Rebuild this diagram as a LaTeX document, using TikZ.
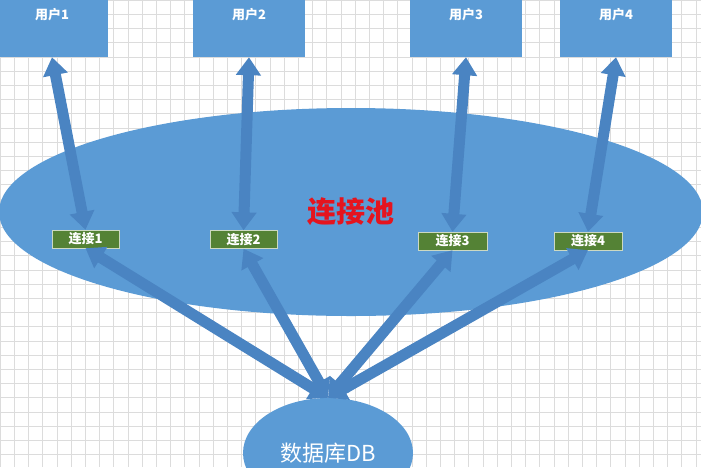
\documentclass[tikz,border=0pt]{standalone}
\usepackage{fontspec}
\setmainfont{Noto Sans CJK SC}
\usetikzlibrary{arrows.meta,shapes.geometric}
\definecolor{boxblue}{HTML}{5B9BD5}
\definecolor{arrowblue}{HTML}{4A84C2}
\definecolor{conngreen}{HTML}{548235}
\definecolor{gridgray}{HTML}{DCDCDC}
\definecolor{poolred}{HTML}{E5141E}

\begin{document}
\begin{tikzpicture}[x=1pt,y=-1pt,
	user/.style={fill=boxblue,minimum width=112pt,minimum height=84pt,text=white,font=\bfseries\fontsize{13}{13}\selectfont},
	conn/.style={draw=white!70!conngreen,fill=conngreen,minimum height=18pt,inner sep=0pt,text=white,font=\bfseries\fontsize{13}{13}\selectfont},
	link/.style={draw=arrowblue,line width=11pt,{Triangle[width=24pt,length=18pt]}-{Triangle[width=24pt,length=18pt]}}]
		% connection pool
		\useasboundingbox (0,0) rectangle (701,467);
		\clip (0,0) rectangle (701,467);
		\fill[white] (0,0) rectangle (701,467);
		\foreach \i in {0,...,49} {
			\draw[gridgray,line width=0.6pt] (\i*14.2,0) -- (\i*14.2,467);
		}
		\foreach \j in {0,...,33} {
			\draw[gridgray,line width=0.6pt] (0,\j*14.2) -- (701,\j*14.2);
		}

		\node[user] (User1) at (52,15) {用户1};
		\node[user] (User2) at (249,15) {用户2};
		\node[user] (User3) at (466,15) {用户3};
		\node[user] (User4) at (616,15) {用户4};

		\node[ellipse,fill=boxblue,minimum width=704pt,minimum height=208pt,text=poolred,font=\bfseries\fontsize{29}{29}\selectfont] (Pool) at (351,212) {连接池};
		\node[ellipse,fill=boxblue,minimum width=170pt,minimum height=110pt,text=white,font=\fontsize{22}{22}\selectfont] (DB) at (328,453) {数据库DB};

		\node[conn,minimum width=67pt] (Conn1) at (85.5,239) {连接1};
		\node[conn,minimum width=67pt] (Conn2) at (243.5,239.5) {连接2};
		\node[conn,minimum width=69pt] (Conn3) at (452.5,241) {连接3};
		\node[conn,minimum width=68pt] (Conn4) at (588,241) {连接4};

		\draw[link] (User1.south) to (Conn1.north);
		\draw[link] (User2.south) to (Conn2.north);
		\draw[link] (User3.south) to (Conn3.north);
		\draw[link] (User4.south) to (Conn4.north);

		\draw[link] (DB.north) to (Conn1.south);
		\draw[link] (DB.north) to (Conn2.south);
		\draw[link] (DB.north) to (Conn3.south);
		\draw[link] (DB.north) to (Conn4.south);
		
		\end{tikzpicture}
\end{document}
